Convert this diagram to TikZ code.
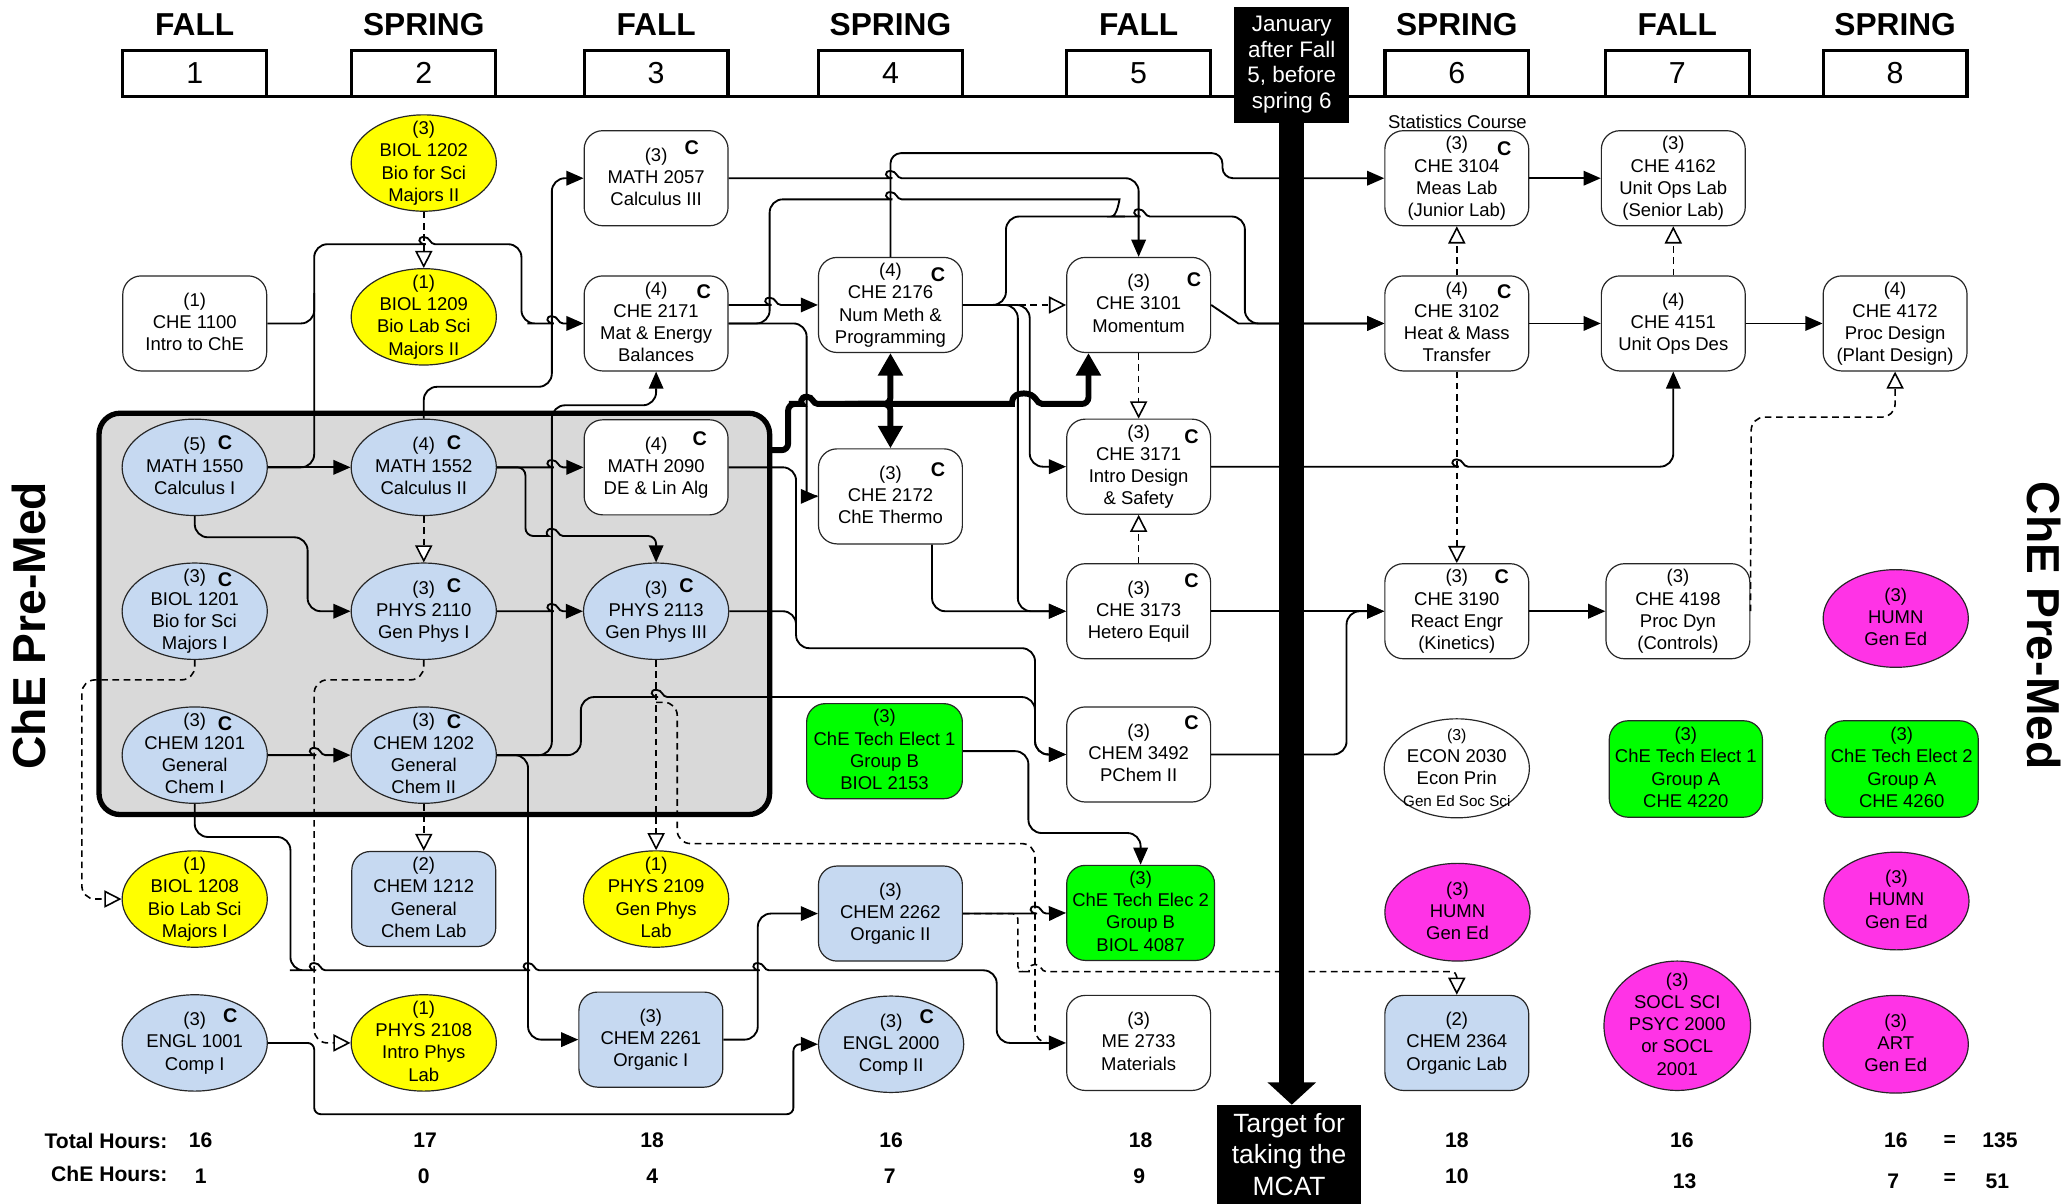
\documentclass[tikz,border=0pt]{standalone}
\usepackage{fontspec}
\setmainfont{Liberation Sans}
\usetikzlibrary{arrows.meta,shapes.geometric,calc}
\definecolor{cblue}{RGB}{198,217,241}
\definecolor{cyel}{RGB}{255,255,0}
\definecolor{cgreen}{RGB}{0,255,0}
\definecolor{cmag}{RGB}{255,51,230}
\definecolor{cgray}{RGB}{217,217,217}
\newcommand\cbody[1]{\raisebox{-4pt}[0pt][0pt]{\makebox[0pt]{\begin{tabular}{@{}c@{}}#1\end{tabular}}}}
\newcommand\hopxs[3]{-- (#1-8.5,#2) [sharp corners] .. controls (#1-4.5,#2) and (#1-5,#2-5.5) .. (#1,#2-5.5) .. controls (#1+5,#2-5.5) and (#1+4.5,#2) .. (#1+8.5,#2) -- (#1+9,#2) [rounded corners=#3]}
\newcommand\hopx[2]{\hopxs{#1}{#2}{10pt}}
\newcommand\hopw[4]{-- (#1-#3,#2) [sharp corners] .. controls (#1-#3+5,#2) and (#1-#3+4,#2-8) .. (#1,#2-8) .. controls (#1+#3-4,#2-8) and (#1+#3-5,#2) .. (#1+#3,#2) -- (#1+#3+1,#2) [rounded corners=#4]}
\newcommand\cmark[3]{\node[clab] (k#1) at ($(#1.center)+(#2,#3)$) {C};}
\tikzset{
  hl/.style={font=\fontsize{24}{24}\selectfont\bfseries, inner sep=0pt},
  sb/.style={draw, line width=2.5pt, minimum width=109pt, minimum height=35pt, inner sep=0pt, outer sep=0pt, font=\fontsize{23}{23}\selectfont},
  crs/.style={draw=black!85, line width=0.9pt, fill=white, rounded corners=14pt, minimum width=109pt, minimum height=72pt, inner sep=0pt, font=\fontsize{14}{16.8}\selectfont},
  cel/.style={draw=black!85, line width=0.9pt, ellipse, minimum width=110pt, minimum height=73pt, inner sep=0pt, font=\fontsize{14}{16.8}\selectfont},
  clab/.style={font=\fontsize{15}{15}\selectfont\bfseries, inner sep=0pt},
  tot/.style={font=\fontsize{16}{16}\selectfont\bfseries, inner sep=0pt},
  cn/.style={draw, line width=1.4pt, rounded corners=10pt, -{Triangle[length=13pt,width=11pt]}},
  cnp/.style={draw, line width=1.4pt, rounded corners=10pt},
  cnd/.style={draw, line width=1.2pt, dash pattern=on 5pt off 3.5pt, rounded corners=10pt, -{Triangle[open,length=13pt,width=13pt,fill=white]}},
  cndp/.style={draw, line width=1.2pt, dash pattern=on 5pt off 3.5pt, rounded corners=10pt},
  cnt/.style={draw, line width=4.5pt, rounded corners=5pt, -{Triangle[length=17pt,width=18pt]}},
}
\begin{document}
\begin{tikzpicture}[x=1pt,y=-1pt]
\fill[white] (0,0) rectangle (1568,912);
\path[use as bounding box] (0,0) rectangle (1568,912);
% ---------- header
\node[hl] (h1) at (147.5,19) {FALL};
\node[hl] (h2) at (321,19) {SPRING};
\node[hl] (h3) at (497,19) {FALL};
\node[hl] (h4) at (674.5,19) {SPRING};
\node[hl] (h5) at (862.5,19) {FALL};
\node[hl] (h6) at (1103.5,19) {SPRING};
\node[hl] (h7) at (1270.5,19) {FALL};
\node[hl] (h8) at (1435.5,19) {SPRING};
\node[sb] (s1) at (147.5,55.5) {1};
\node[sb] (s2) at (321,55.5) {2};
\node[sb] (s3) at (497,55.5) {3};
\node[sb] (s4) at (674.5,55.5) {4};
\node[sb] (s5) at (862.5,55.5) {5};
\node[sb] (s6) at (1103.5,55.5) {6};
\node[sb] (s7) at (1270.5,55.5) {7};
\node[sb] (s8) at (1435.5,55.5) {8};
\draw[line width=2.5pt] (s1.south west) -- (s8.south east);
% ---------- core group
\node[draw, line width=4pt, fill=cgray, rounded corners=16pt, minimum width=508pt, minimum height=304pt, inner sep=0pt, outer sep=0pt] (core) at (329,465) {};
% ---------- column 1
\node[crs] (c1100) at (147.5,245) {\cbody{(1)\\CHE 1100\\Intro to ChE}};
\node[cel, fill=cblue] (m1550) at (147.5,354) {\cbody{(5)\\MATH 1550\\Calculus I}};
\node[cel, fill=cblue] (b1201) at (147.5,463) {\cbody{(3)\\BIOL 1201\\Bio for Sci\\Majors I}};
\node[cel, fill=cblue] (ch1201) at (147.5,572) {\cbody{(3)\\CHEM 1201\\General\\Chem I}};
\node[cel, fill=cyel] (b1208) at (147.5,681) {\cbody{(1)\\BIOL 1208\\Bio Lab Sci\\Majors I}};
\node[cel, fill=cblue] (e1001) at (147.5,790) {\cbody{(3)\\ENGL 1001\\Comp I}};
% ---------- column 2
\node[cel, fill=cyel] (b1202) at (321,123.5) {\cbody{(3)\\BIOL 1202\\Bio for Sci\\Majors II}};
\node[cel, fill=cyel] (b1209) at (321,240) {\cbody{(1)\\BIOL 1209\\Bio Lab Sci\\Majors II}};
\node[cel, fill=cblue] (m1552) at (321,354) {\cbody{(4)\\MATH 1552\\Calculus II}};
\node[cel, fill=cblue] (p2110) at (321,463) {\cbody{(3)\\PHYS 2110\\Gen Phys I}};
\node[cel, fill=cblue] (ch1202) at (321,572) {\cbody{(3)\\CHEM 1202\\General\\Chem II}};
\node[crs, fill=cblue] (ch1212) at (321,681) {\cbody{(2)\\CHEM 1212\\General\\Chem Lab}};
\node[cel, fill=cyel] (p2108) at (321,790) {\cbody{(1)\\PHYS 2108\\Intro Phys\\Lab}};
% ---------- column 3
\node[crs] (m2057) at (497,135) {\cbody{(3)\\MATH 2057\\Calculus III}};
\node[crs] (c2171) at (497,245) {\cbody{(4)\\CHE 2171\\Mat \& Energy\\Balances}};
\node[crs] (m2090) at (497,354) {\cbody{(4)\\MATH 2090\\DE \& Lin Alg}};
\node[cel, fill=cblue] (p2113) at (497,463) {\cbody{(3)\\PHYS 2113\\Gen Phys III}};
\node[cel, fill=cyel] (p2109) at (497,681) {\cbody{(1)\\PHYS 2109\\Gen Phys\\Lab}};
\node[crs, fill=cblue] (ch2261) at (493,787.5) {\cbody{(3)\\CHEM 2261\\Organic I}};
% ---------- column 4
\node[crs] (c2176) at (674.5,231) {\cbody{(4)\\CHE 2176\\Num Meth \&\\Programming}};
\node[crs] (c2172) at (674.5,376) {\cbody{(3)\\CHE 2172\\ChE Thermo}};
\node[crs, fill=cgreen, minimum width=118pt] (te1b) at (670,569) {\cbody{(3)\\ChE Tech Elect 1\\Group B\\BIOL 2153}};
\node[crs, fill=cblue] (ch2262) at (674.5,692) {\cbody{(3)\\CHEM 2262\\Organic II}};
\node[cel, fill=cblue] (e2000) at (675,791) {\cbody{(3)\\ENGL 2000\\Comp II}};
% ---------- column 5
\node[crs] (c3101) at (862.5,231) {\cbody{(3)\\CHE 3101\\Momentum}};
\node[crs] (c3171) at (862.5,353.5) {\cbody{(3)\\CHE 3171\\Intro Design\\\& Safety}};
\node[crs] (c3173) at (862.5,463) {\cbody{(3)\\CHE 3173\\Hetero Equil}};
\node[crs] (ch3492) at (862.5,571.5) {\cbody{(3)\\CHEM 3492\\PChem II}};
\node[crs, fill=cgreen, minimum width=112pt] (te2b) at (864,691.5) {\cbody{(3)\\ChE Tech Elec 2\\Group B\\BIOL 4087}};
\node[crs] (me2733) at (862.5,790) {\cbody{(3)\\ME 2733\\Materials}};
% ---------- column 6
\node[crs] (c3104) at (1103.5,135) {\cbody{(3)\\CHE 3104\\Meas Lab\\(Junior Lab)}};
\node[crs] (c3102) at (1103.5,245) {\cbody{(4)\\CHE 3102\\Heat \& Mass\\Transfer}};
\node[crs] (c3190) at (1103.5,463) {\cbody{(3)\\CHE 3190\\React Engr\\(Kinetics)}};
\node[cel, fill=white, minimum height=75pt] (econ) at (1103.5,582) {\cbody{{\fontsize{12}{13}\selectfont (3)}\\ECON 2030\\Econ Prin\\{\fontsize{11.5}{13}\selectfont Gen Ed Soc Sci}}};
\node[cel, fill=cmag, minimum height=74pt] (humn6) at (1104,691) {\cbody{(3)\\HUMN\\Gen Ed}};
\node[crs, fill=cblue] (ch2364) at (1103.5,790) {\cbody{(2)\\CHEM 2364\\Organic Lab}};
\node[font=\fontsize{14}{14}\selectfont, inner sep=0pt] (stat) at (1104,92) {Statistics Course};
% ---------- column 7
\node[crs] (c4162) at (1267.5,135) {\cbody{(3)\\CHE 4162\\Unit Ops Lab\\(Senior Lab)}};
\node[crs] (c4151) at (1267.5,245) {\cbody{(4)\\CHE 4151\\Unit Ops Des}};
\node[crs] (c4198) at (1271,463) {\cbody{(3)\\CHE 4198\\Proc Dyn\\(Controls)}};
\node[crs, fill=cgreen, minimum width=116pt, minimum height=73pt] (te1a) at (1277,582.5) {\cbody{(3)\\ChE Tech Elect 1\\Group A\\CHE 4220}};
\node[cel, fill=cmag, minimum width=111pt, minimum height=98pt] (socl) at (1270.5,777) {\cbody{(3)\\SOCL SCI\\PSYC 2000\\or SOCL\\2001}};
% ---------- column 8
\node[crs] (c4172) at (1435.5,245) {\cbody{(4)\\CHE 4172\\Proc Design\\(Plant Design)}};
\node[cel, fill=cmag, minimum height=74pt] (humn8a) at (1436,468.5) {\cbody{(3)\\HUMN\\Gen Ed}};
\node[crs, fill=cgreen, minimum width=116pt, minimum height=73pt] (te2a) at (1440.5,582.5) {\cbody{(3)\\ChE Tech Elect 2\\Group A\\CHE 4260}};
\node[cel, fill=cmag, minimum height=74pt] (humn8b) at (1436.5,682.5) {\cbody{(3)\\HUMN\\Gen Ed}};
\node[cel, fill=cmag, minimum height=74pt] (art) at (1436,791) {\cbody{(3)\\ART\\Gen Ed}};
% ---------- C marks
\cmark{m2057}{27}{-23}
\cmark{c2171}{36}{-24}
\cmark{c2176}{36}{-23}
\cmark{c3101}{42}{-19}
\cmark{c2172}{36}{-20}
\cmark{m2090}{33}{-22}
\cmark{c3171}{40}{-23}
\cmark{c3173}{40}{-23}
\cmark{ch3492}{40}{-24}
\cmark{c3104}{36}{-22}
\cmark{c3102}{36}{-24}
\cmark{c3190}{34}{-26}
\cmark{m1550}{23}{-19}
\cmark{m1552}{23}{-19}
\cmark{p2110}{23}{-19}
\cmark{p2113}{23}{-19}
\cmark{b1201}{23}{-24}
\cmark{ch1201}{23}{-24}
\cmark{ch1202}{23}{-25}
\cmark{e1001}{27}{-21}
\cmark{e2000}{27}{-21}
% ---------- connectors, year 1-2
\draw[cn] (m1550.east) -- (m1552.west);
\draw[cn] (m1550.east) -- (238,354) -- (238,185) \hopx{321}{185} -- (395,185) -- (395,245) \hopx{418}{245} -- (c2171.west);
\draw[cnp] (c1100.east) -- (238,245) -- (238,222);
\draw[cnd] (b1202.south) -- (b1209.north);
\draw[cn] (m1552.north) -- (321,293) -- (418,293) -- (418,135) -- (m2057.west);
\draw[cn] (ch1202.east) -- (418,572) -- (418,307) -- (497,307) -- (c2171.south);
\draw[cn] (ch1202.east) -- (400,572) -- (400,787.5) -- (ch2261.west);
\draw[cn] (ch1202.east) -- (440,572) -- (440,528) \hopx{497}{528} -- (784,528) -- (784,571.5) -- (ch3492.west);
\draw[cn] (p2113.east) -- (603,463) -- (603,491) -- (784,491) -- (784,571.5) -- (ch3492.west);
\draw[cnp] (m2090.east) -- (603,354) -- (603,475);
\draw[cn] (m1552.east) \hopx{418}{354} -- (m2090.west);
\draw[cn, rounded corners=6pt] (m1552.east) -- (398,354) -- (398,406) \hopxs{418}{406}{6pt} -- (497,406) -- (p2113.north);
\draw[cnd] (m1552.south) -- (p2110.north);
\draw[cn] (m1550.south) -- (147.5,407) -- (233,407) -- (233,463) -- (p2110.west);
\draw[cn] (p2110.east) \hopx{418}{463} -- (p2113.west);
\draw[cn] (ch1201.east) \hopx{238}{572} -- (ch1202.west);
\draw[cnd] (b1201.south) -- (147.5,515) -- (62,515) -- (62,681) -- (b1208.west);
\draw[cnd] (p2110.south) -- (321,515) -- (238,515) -- (238,790) -- (p2108.west);
\draw[cnd] (ch1202.south) -- (ch1212.north);
\draw[cnd] (p2113.south) -- (p2109.north);
\coordinate (brP) at (497,532);
\draw[cndp] (brP) -- (513,532) -- (513,639) -- (784,639) -- (784,790) -- (me2733.west);
\draw[cn] (ch1201.south) -- (147.5,634) -- (220,634) -- (220,735) \hopx{238}{735} \hopx{400}{735} \hopx{574}{735} -- (755,735) -- (755,790) -- (me2733.west);
\draw[cn] (ch2261.east) -- (574,787.5) -- (574,692) -- (ch2262.west);
\draw[cn, rounded corners=5pt] (e1001.east) -- (238,790) -- (238,844) -- (601,844) -- (601,791) -- (e2000.west);
\draw[cn] (ch2262.east) \hopx{784}{692} -- (te2b.west);
\draw[cnd, rounded corners=4pt] (ch2262.east) -- (771,692) -- (771,736) \hopxs{784}{736}{4pt} -- (1103.5,736) -- (ch2364.north);
\draw[cn] (te1b.east) -- (779,569) -- (779,631) -- (864,631) -- (te2b.north);
% ---------- connectors, ChE core
\draw[cn] ($(c2171.east)+(0,-14)$) \hopx{583}{231} -- (c2176.west);
\draw[cn] (c2171.east) -- (611,245) -- (611,366) to[out=-90,in=180] (619,376) (607,376) -- (c2172.west);
\draw[cn] (c2171.east) -- (583,245) -- (583,151) \hopx{674.5}{151} -- (838,151) .. controls (848,151) and (846,164) .. (852,164) \hopx{862.5}{164} -- (943,164) -- (943,245) -- (c3102.west);
\draw[cnp] (c2176.east) -- (762,231) -- (762,164) -- (852,164);
\draw[cn, sharp corners] (c3101.east) -- (938,245) -- (c3102.west);
\draw[cn] (m2057.east) \hopx{674.5}{135} -- (862.5,135) -- (c3101.north);
\draw[cn, rounded corners=8pt] (c2176.north) -- (674.5,116) -- (926,116) -- (926,135) -- (c3104.west);
\draw[cnd] (c2176.east) -- (c3101.west);
\draw[cn] (c2176.east) -- (780,231) -- (780,353.5) -- (c3171.west);
\draw[cn] (c2176.east) -- (771,231) -- (771,463) -- (c3173.west);
\draw[cn] ($(c2172.south)+(31.5,0)$) -- (706,463) -- (c3173.west);
\draw[cnd] (c3101.south) -- (c3171.north);
\draw[cnd] (c3173.north) -- (c3171.south);
\draw[cn] (c3171.east) \hopx{1103.5}{353.5} -- (1267.5,353.5) -- (c4151.south);
\draw[cn] (c3173.east) -- (c3190.west);
\draw[cn] (ch3492.east) -- (1020,571.5) -- (1020,463) -- (c3190.west);
\draw[cnd] (c3102.north) -- (c3104.south);
\draw[cnd] (c3102.south) -- (c3190.north);
\draw[cn] (c3104.east) -- (c4162.west);
\draw[cn] (c3102.east) -- (c4151.west);
\draw[cnd] (c4151.north) -- (c4162.south);
\draw[cn] (c4151.east) -- (c4172.west);
\draw[cn] (c3190.east) -- (c4198.west);
\draw[cnd] (c4198.east) -- (1326.5,316) -- (1435.5,316) -- (c4172.south);
% ---------- thick bundle from the core group
\draw[cnt] ($(core.north east)+(0,28)$) -- (597,341) -- (597,306) \hopxs{611}{306}{5pt} -- (674.5,306) -- (c2176.south);
\draw[cnt] (640,306) -- (674.5,306) -- (c2172.north);
\draw[cnt] (650,306) \hopw{775.5}{306}{14}{5pt} -- (824.5,306) -- ($(c3101.south)+(-38,0)$);
% ---------- MCAT timeline
\node[fill=black, text=white, minimum width=87pt, minimum height=88pt, inner sep=0pt, font=\fontsize{17}{19.5}\selectfont, align=center] (jan) at (978.5,49) {January\\after Fall\\5, before\\spring 6};
\node[fill=black, text=white, minimum width=109pt, minimum height=75pt, inner sep=0pt, font=\fontsize{20}{24}\selectfont, align=center] (target) at (976.5,874.5) {Target for\\taking the\\MCAT};
\draw[line width=19pt, -{Triangle[length=17pt,width=36pt]}] (jan.south) -- (jan.south |- target.north);
% ---------- hours
\node[tot, anchor=east] (tl1) at (127,864) {Total Hours:};
\node[tot, anchor=east] (tl2) at (127,889) {ChE Hours:};
\node[tot] (ta1) at (152,864) {16};
\node[tot] (ta2) at (322,864) {17};
\node[tot] (ta3) at (494,864) {18};
\node[tot] (ta4) at (675,864) {16};
\node[tot] (ta5) at (864,864) {18};
\node[tot] (ta6) at (1103.5,864) {18};
\node[tot] (ta7) at (1274,864) {16};
\node[tot] (ta8) at (1436,864) {16};
\node[tot] (taq) at (1477,864) {=};
\node[tot] (tas) at (1515,864) {135};
\node[tot] (tb1) at (152,891) {1};
\node[tot] (tb2) at (321,891) {0};
\node[tot] (tb3) at (494,891) {4};
\node[tot] (tb4) at (674,891) {7};
\node[tot] (tb5) at (863,891) {9};
\node[tot] (tb6) at (1103.5,891) {10};
\node[tot] (tb7) at (1276,895) {13};
\node[tot] (tb8) at (1434,895) {7};
\node[tot] (tbq) at (1477,893) {=};
\node[tot] (tbs) at (1513,895) {51};
% ---------- side labels
\node[rotate=90, font=\fontsize{35}{35}\selectfont\bfseries, inner sep=0pt] (pmL) at (22,474) {ChE Pre-Med};
\node[rotate=-90, font=\fontsize{35}{35}\selectfont\bfseries, inner sep=0pt] (pmR) at (1548,474) {ChE Pre-Med};
\end{tikzpicture}
\end{document}
